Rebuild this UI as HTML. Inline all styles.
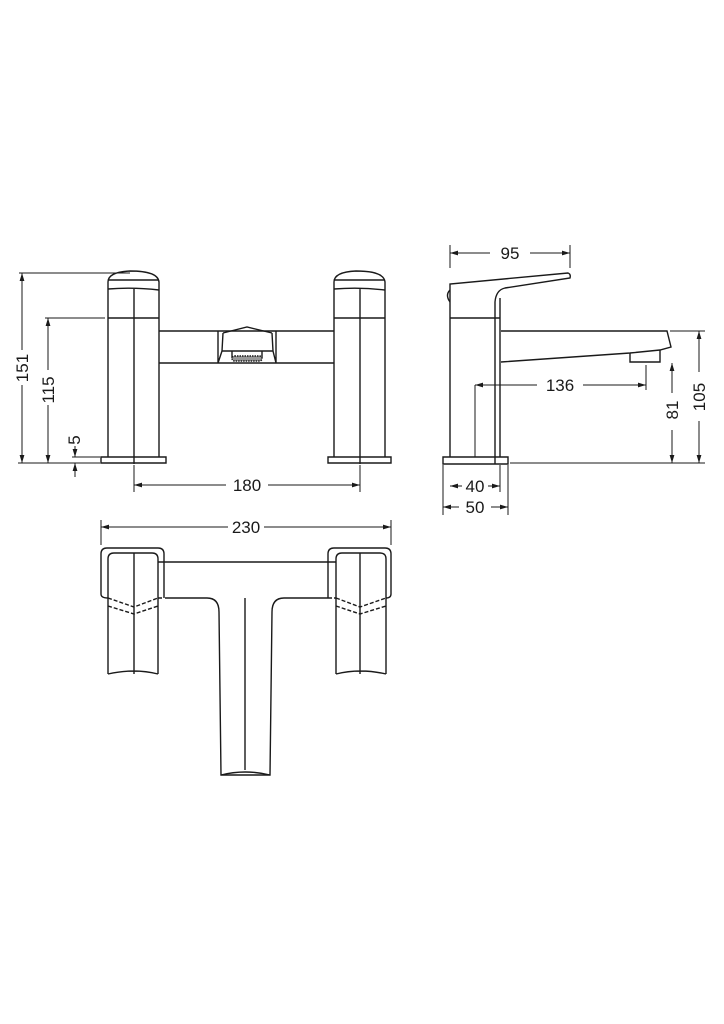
<!DOCTYPE html>
<html><head><style>html,body{margin:0;padding:0;background:#fff}svg{display:block}</style></head><body>
<svg width="724" height="1024" viewBox="0 0 724 1024" xmlns="http://www.w3.org/2000/svg" fill="none" stroke="#1a1a1a" stroke-width="1.4">
<defs>
<marker id="a" viewBox="0 0 10 6" refX="10" refY="3" markerWidth="8" markerHeight="5" orient="auto-start-reverse"><path d="M0,0L10,3L0,6z" fill="#1a1a1a" stroke="none"/></marker>
</defs>
<g font-family="Liberation Sans, sans-serif" font-size="17" fill="#1a1a1a" stroke="none">
<text x="247" y="491" text-anchor="middle">180</text>
<text x="510" y="259" text-anchor="middle">95</text>
<text x="560" y="391" text-anchor="middle">136</text>
<text x="475" y="492" text-anchor="middle">40</text>
<text x="475" y="513" text-anchor="middle">50</text>
<text x="246" y="533" text-anchor="middle">230</text>
<text transform="translate(28,368) rotate(-90)" text-anchor="middle">151</text>
<text transform="translate(54,390) rotate(-90)" text-anchor="middle">115</text>
<text transform="translate(80,440) rotate(-90)" text-anchor="middle">5</text>
<text transform="translate(678,410) rotate(-90)" text-anchor="middle">81</text>
<text transform="translate(705,397) rotate(-90)" text-anchor="middle">105</text>
</g>
<!-- front view dims -->
<g stroke-width="1">
<path d="M19 273H130M45 318H105M18 463H100M72 457H100M134 465V492M360 465V492"/>
<path d="M22 273V350M22 385V463" marker-start="url(#a)" marker-end="url(#a)"/>
<path d="M48 318V370M48 405V463" marker-start="url(#a)" marker-end="url(#a)"/>
<path d="M75 446V457" marker-end="url(#a)"/>
<path d="M75 477V463" marker-end="url(#a)"/>
<path d="M134 485H226M268 485H360" marker-start="url(#a)" marker-end="url(#a)"/>
</g>
<!-- left tap -->
<path d="M108 457V282Q108 272 130 271Q158 271 159 282V457"/>
<path d="M108 280H159M108 289Q134 287 159 290M108 318H159M134 289V464"/>
<path d="M101 457H166V463H101Z"/>
<!-- right tap -->
<path d="M334 457V282Q334 272 356 271Q384 271 385 282V457"/>
<path d="M334 280H385M334 289Q360 287 385 290M334 318H385M360 289V464"/>
<path d="M328 457H391V463H328Z"/>
<!-- bridge -->
<path d="M159 331H334M159 363H334"/>
<path d="M218 331V363M276 331V363M223 333L247 327L272 333M223 333L222 351L218 363M272 333L273 351L276 363M222 351H273"/>
<path d="M232 351V358M262 351V358"/>
<rect x="232" y="356" width="30" height="5" rx="2.5" fill="#999" stroke-dasharray="1.5 1"/>
<!-- side view -->
<g stroke-width="1">
<path d="M450 245V268M570 245V268M443 465V515M508 465V515M500 465V492M475 385V457M646 365V390M510 463H705M670 331H705"/>
<path d="M450 253H490M530 253H570" marker-start="url(#a)" marker-end="url(#a)"/>
<path d="M475 385H537M583 385H646" marker-start="url(#a)" marker-end="url(#a)"/>
<path d="M672 363V393M672 430V463" marker-start="url(#a)" marker-end="url(#a)"/>
<path d="M699 331V372M699 421V463" marker-start="url(#a)" marker-end="url(#a)"/>
<path d="M450 486H462M488 486H500" marker-start="url(#a)" marker-end="url(#a)"/>
<path d="M443 507H459M491 507H508" marker-start="url(#a)" marker-end="url(#a)"/>
</g>
<path d="M450 457V284L568 273Q571 274 570 278L505 288Q496 290 495 302V457"/>
<path d="M450 290Q445 295 450 302M500 298V457M450 318H500"/>
<path d="M501 331H667L671 347L660 350L630 353L501 362"/>
<path d="M630 353V362H660V350"/>
<path d="M443 457H508V464H443ZM495 457V464"/>
<!-- top view -->
<g stroke-width="1">
<path d="M101 520V545M391 520V545"/>
<path d="M101 527H228M264 527H391" marker-start="url(#a)" marker-end="url(#a)"/>
</g>
<path d="M158 562H336M165 598H207Q219 598 219 612L221 775H270L272 612Q272 598 284 598H328"/>
<path d="M221 775Q245 769 270 775M245 598V770"/>
<path d="M164 598V554Q164 548 158 548H107Q101 548 101 554V594Q101 598 108 598"/>
<path d="M108 674V559Q108 553 114 553H152Q158 553 158 559V674M108 674Q134 668 158 674M134 553V674"/>
<path d="M108 598L134 607L158 598M108 606L134 614L158 606M158 598H164" stroke-dasharray="4 2"/>
<path d="M328 598V554Q328 548 334 548H385Q391 548 391 554V594Q391 598 386 598"/>
<path d="M336 674V559Q336 553 342 553H380Q386 553 386 559V674M336 674Q360 668 386 674M360 553V674"/>
<path d="M336 598L360 607L386 598M336 606L360 614L386 606M328 598H336" stroke-dasharray="4 2"/>
</svg>
</body></html>
